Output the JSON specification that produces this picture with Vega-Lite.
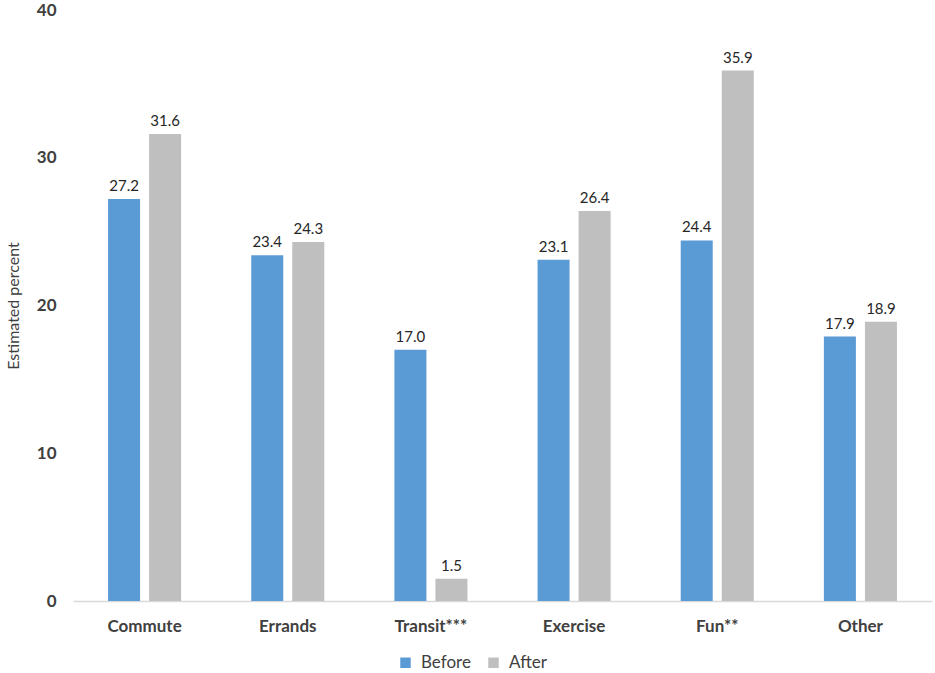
{
  "$schema": "https://vega.github.io/schema/vega-lite/v6.json",
  "width": 859,
  "height": 591,
  "autosize": {"type": "none"},
  "padding": {"left": 73, "top": 10, "right": 3, "bottom": 72},
  "background": "white",
  "data": {
    "values": [
      {"activity": "Commute", "period": "Before", "pct": 27.2},
      {"activity": "Commute", "period": "After", "pct": 31.6},
      {"activity": "Errands", "period": "Before", "pct": 23.4},
      {"activity": "Errands", "period": "After", "pct": 24.3},
      {"activity": "Transit***", "period": "Before", "pct": 17.0},
      {"activity": "Transit***", "period": "After", "pct": 1.5},
      {"activity": "Exercise", "period": "Before", "pct": 23.1},
      {"activity": "Exercise", "period": "After", "pct": 26.4},
      {"activity": "Fun**", "period": "Before", "pct": 24.4},
      {"activity": "Fun**", "period": "After", "pct": 35.9},
      {"activity": "Other", "period": "Before", "pct": 17.9},
      {"activity": "Other", "period": "After", "pct": 18.9}
    ]
  },
  "encoding": {
    "x": {
      "field": "activity",
      "type": "nominal",
      "sort": null,
      "title": null,
      "scale": {"paddingInner": 0, "paddingOuter": 0},
      "axis": {
        "labelAngle": 0,
        "labelFontWeight": "bold",
        "labelFontSize": 17,
        "labelColor": "#404040",
        "labelPadding": 17,
        "ticks": false,
        "domainColor": "#D9D9D9",
        "domainWidth": 1.5
      }
    },
    "xOffset": {
      "field": "period",
      "sort": ["Before", "After"],
      "scale": {"paddingInner": 0.22, "paddingOuter": 0.854}
    },
    "y": {
      "field": "pct",
      "type": "quantitative",
      "title": "Estimated percent",
      "scale": {"domain": [0, 40]},
      "axis": {
        "values": [0, 10, 20, 30, 40],
        "grid": false,
        "domain": false,
        "ticks": false,
        "labelFontWeight": "bold",
        "labelFontSize": 17,
        "labelColor": "#404040",
        "labelPadding": 17,
        "titleFontSize": 16,
        "titleFontWeight": "normal",
        "titleColor": "#404040",
        "titlePadding": 15
      }
    }
  },
  "layer": [
    {
      "mark": {"type": "bar", "stroke": null},
      "encoding": {
        "color": {
          "field": "period",
          "type": "nominal",
          "sort": ["Before", "After"],
          "scale": {"domain": ["Before", "After"], "range": ["#5B9BD5", "#BFBFBF"]},
          "legend": {
            "title": null,
            "orient": "none",
            "direction": "horizontal",
            "legendX": 324,
            "legendY": 644,
            "symbolType": "square",
            "symbolSize": 110,
            "symbolStrokeWidth": 0,
            "labelFontSize": 17,
            "labelColor": "#404040",
            "columnPadding": 14,
            "labelOffset": 7
          }
        }
      }
    },
    {
      "mark": {"type": "text", "dy": -13, "fontSize": 15, "color": "#262626"},
      "encoding": {
        "text": {"field": "pct", "type": "quantitative", "format": ".1f"}
      }
    }
  ],
  "config": {
    "view": {"stroke": null},
    "font": "Lato"
  }
}
